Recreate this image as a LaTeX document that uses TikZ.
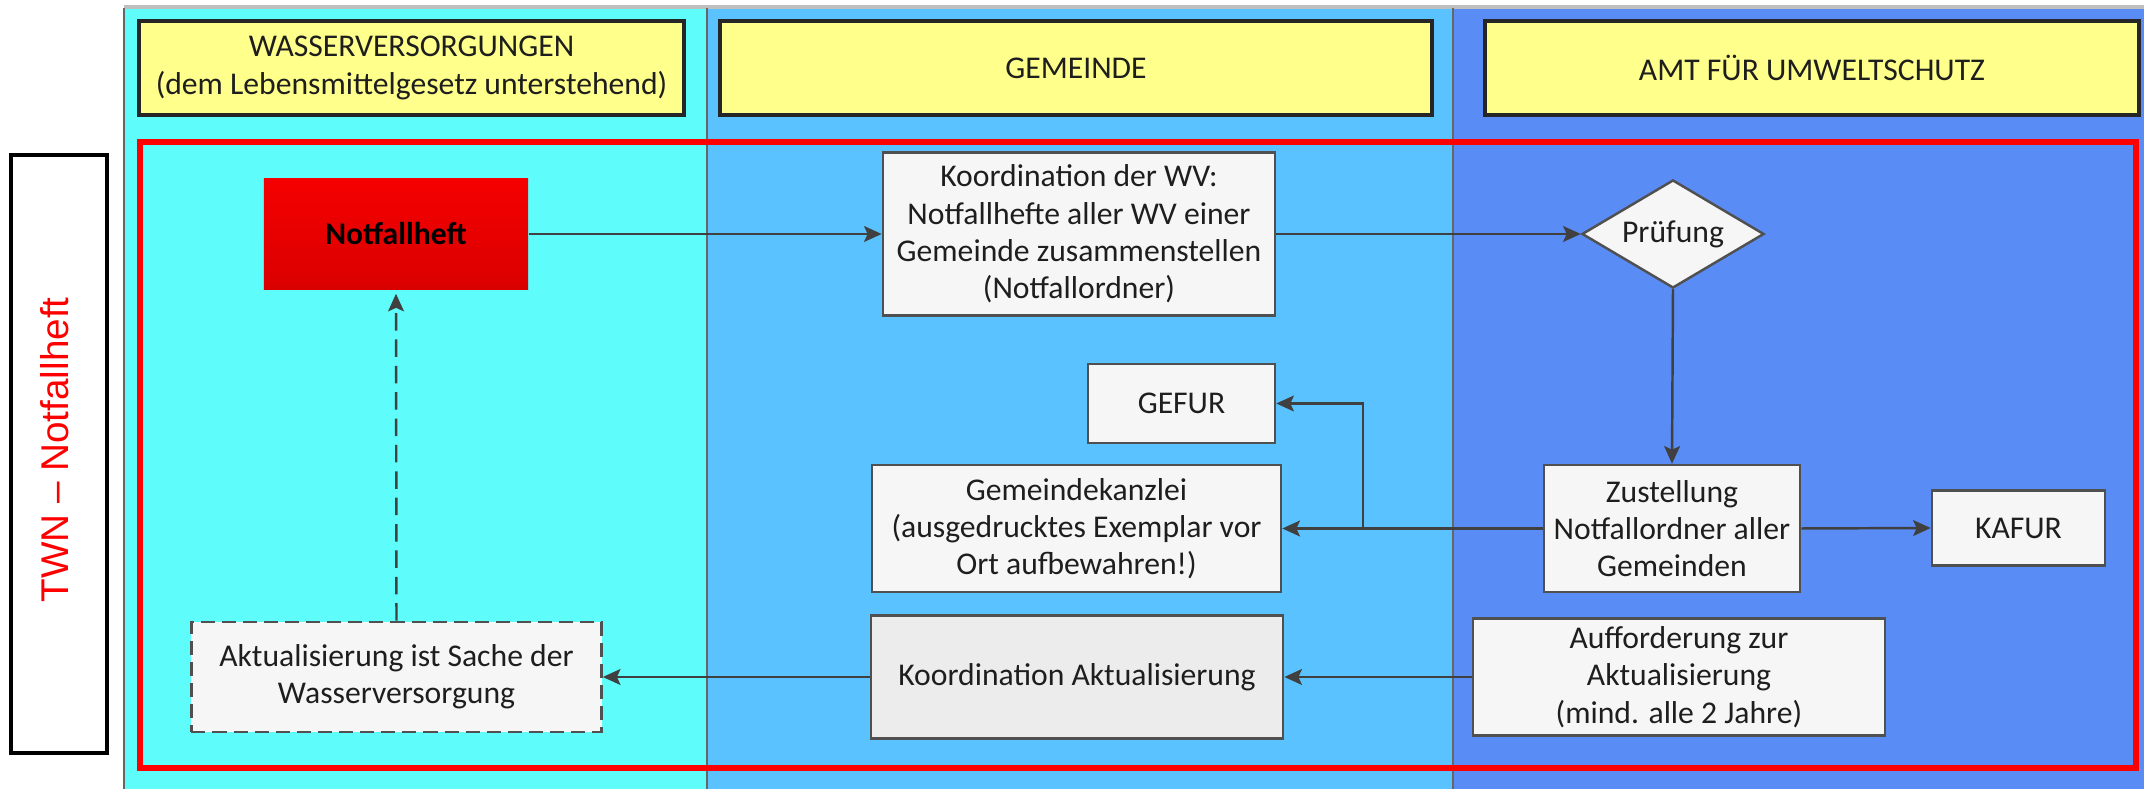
\documentclass[tikz,border=0pt]{standalone}
\usepackage{fontspec}
\setmainfont{Carlito}
\newfontfamily\lblfont{Liberation Sans}
\usetikzlibrary{shapes.geometric,arrows.meta,calc}
\definecolor{laneA}{RGB}{95,252,252}
\definecolor{laneB}{RGB}{90,195,255}
\definecolor{laneC}{RGB}{90,140,245}
\definecolor{hdrfill}{RGB}{255,255,140}
\definecolor{boxfill}{RGB}{246,246,246}
\definecolor{boxfillB}{RGB}{236,236,236}
\definecolor{boxline}{RGB}{80,80,80}
\definecolor{arrcol}{RGB}{64,64,64}
\definecolor{txt}{RGB}{30,30,30}
\definecolor{notftop}{RGB}{245,0,0}
\definecolor{notfbot}{RGB}{218,0,0}
\begin{document}
\begin{tikzpicture}[x=0.01cm,y=-0.01cm,
  every node/.style={font=\fontsize{9}{10.6}\selectfont, text=txt, align=center, inner sep=0pt},
  hdr/.style={draw=black!85, line width=1pt, fill=hdrfill, minimum height=0.94cm},
  box/.style={draw=boxline, line width=0.7pt, fill=boxfill},
  arr/.style={draw=arrcol, line width=0.7pt, -{Stealth[length=5pt,width=4.5pt,inset=1pt]}},
  lane/.style={draw=black!60, line width=0.4pt}]
\useasboundingbox (0,0) rectangle (2144,789);
\fill[white] (0,0) rectangle (2144,789);
% lanes
\fill[laneA] (124,8) rectangle (707,789);
\fill[laneB] (707,8) rectangle (1453,789);
\fill[laneC] (1453,8) rectangle (2144,789);
\draw[black!25, line width=1pt] (124,7) -- (2144,7);
\draw[lane] (124,8) -- (124,789);
\draw[lane] (707,8) -- (707,789);
\draw[lane] (1453,8) -- (1453,789);
% headers
\node[hdr, minimum width=5.45cm] (h1) at (411.5,68) {WASSERVERSORGUNGEN\\(dem Lebensmittelgesetz unterstehend)};
\node[hdr, minimum width=7.12cm] (h2) at (1076,68) {GEMEINDE};
\node[hdr, minimum width=6.54cm] (h3) at (1812,68) {AMT FÜR UMWELTSCHUTZ};
% red frame
\draw[red, line width=0.055cm] (140,142) rectangle (2136,768);
% side label
\node[draw=black, line width=1.2pt, fill=white, minimum width=0.96cm, minimum height=5.98cm] (side) at (59,454) {};
\node[rotate=90, font=\lblfont\fontsize{11}{13}\selectfont, text=red] (sidetxt) at (55,450) {TWN – Notfallheft};
% boxes
\node[draw=none, top color=notftop, bottom color=notfbot, minimum width=2.64cm, minimum height=1.11cm, font=\fontsize{9}{10.6}\selectfont\bfseries, text=black] (notf) at (396,234) {Notfallheft};
\node[box, minimum width=3.92cm, minimum height=1.63cm] (koord) at (1079,234) {Koordination der WV:\\Notfallhefte aller WV einer\\Gemeinde zusammenstellen\\(Notfallordner)};
\node[box, diamond, aspect=1.685, minimum width=1.82cm, minimum height=1.08cm] (pruef) at (1673,234) {Prüfung};
\node[box, minimum width=1.87cm, minimum height=0.79cm] (gefur) at (1181.5,403.5) {GEFUR};
\node[box, minimum width=4.09cm, minimum height=1.27cm] (kanz) at (1076.5,528.5) {Gemeindekanzlei\\(ausgedrucktes Exemplar vor\\Ort aufbewahren!)};
\node[box, minimum width=2.56cm, minimum height=1.27cm] (zust) at (1672,528.5) {Zustellung\\Notfallordner aller\\Gemeinden};
\node[box, minimum width=1.73cm, minimum height=0.75cm] (kafur) at (2018.5,528) {KAFUR};
\node[box, dash pattern=on 4pt off 2pt, minimum width=4.10cm, minimum height=1.10cm] (akt) at (396.5,677) {Aktualisierung ist Sache der\\Wasserversorgung};
\node[box, fill=boxfillB, minimum width=4.12cm, minimum height=1.23cm] (koakt) at (1077,677) {Koordination Aktualisierung};
\node[box, minimum width=4.12cm, minimum height=1.17cm] (auff) at (1679,677) {Aufforderung zur\\Aktualisierung\\(mind. alle 2 Jahre)};
% connectors
\draw[arr] (notf.east) -- (koord.west);
\draw[arr] (koord.east) -- (pruef.west);
\draw[arr] (pruef.south) -- (zust.north);
\draw[arr] (zust.west) -- (kanz.east);
\coordinate (br) at (1363,528.5);
\draw[arr] (br) |- (gefur.east);
\draw[arr] (zust.east) -- (kafur.west);
\draw[arr] (auff.west) -- (koakt.east);
\draw[arr] (koakt.west) -- (akt.east);
\draw[arr, dash pattern=on 5pt off 2.5pt, shorten >=1pt] (akt.north) -- (notf.south);
\end{tikzpicture}
\end{document}
